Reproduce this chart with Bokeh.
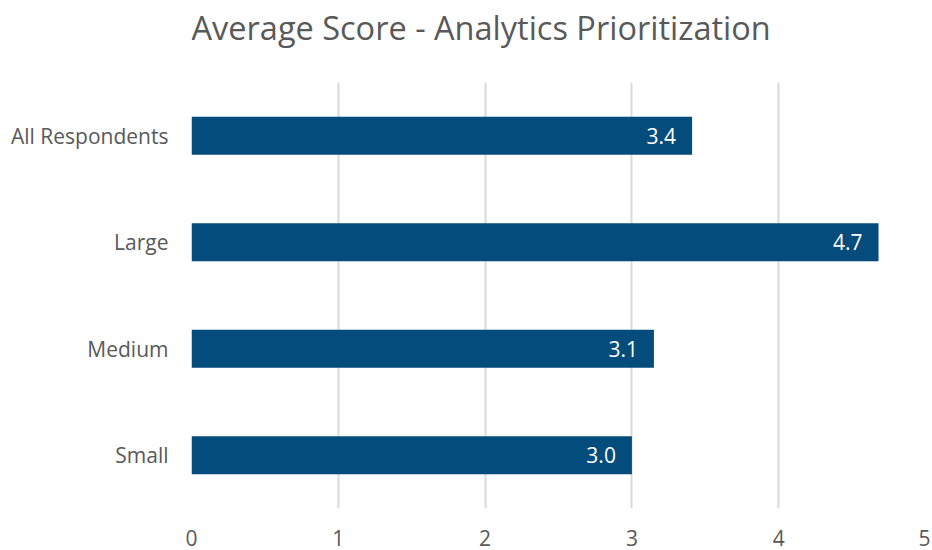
from bokeh.plotting import figure
from bokeh.layouts import column
from bokeh.models import ColumnDataSource, Range1d, FactorRange, FixedTicker, LabelSet
from bokeh.core.properties import value
from bokeh.embed import file_html
from bokeh.resources import INLINE

title_text = "Average Score - Analytics Prioritization"
categories = ["All Respondents", "Large", "Medium", "Small"]
scores = [3.41, 4.68, 3.15, 3.0]
x_ticks = [0, 1, 2, 3, 4, 5]

labels = [f"{v:.1f}" for v in scores]
source = ColumnDataSource(dict(cat=categories, score=scores, label=labels))

TEXT = "#595959"
FONT = "Open Sans"
W = 930
TITLE_H = 82
MAIN_H = 468

# ---- title strip (its frame is aligned with the chart's plot area by the column) ----
t = figure(width=W, height=TITLE_H, x_range=Range1d(0, 5), y_range=Range1d(0, TITLE_H),
           x_axis_type=None, y_axis_type=None,
           output_backend="svg", toolbar_location=None,
           min_border_left=191, min_border_right=W - 925, min_border_top=0, min_border_bottom=0)
t.grid.visible = False
t.outline_line_color = None
t.text(x=[0], y=[TITLE_H - 27], text=[title_text], text_align="left",
       text_baseline="middle", text_font=value(FONT), text_font_size="32.5px",
       text_color=TEXT)

# ---- main chart ----
p = figure(
    width=W, height=MAIN_H,
    y_range=FactorRange(*categories[::-1]),
    x_range=Range1d(0, 5),
    output_backend="svg", toolbar_location=None,
    min_border_left=191, min_border_right=W - 925, min_border_top=0,
    min_border_bottom=42,
)
p.hbar(y="cat", right="score", left=0, height=0.355, source=source,
       fill_color="#044C7B", line_color=None)

lbl = LabelSet(x="score", y="cat", text="label", source=source,
               x_offset=-16, text_align="right", text_baseline="middle",
               text_color="white", text_font=value(FONT), text_font_size="21px")
p.add_layout(lbl)

p.xaxis.ticker = FixedTicker(ticks=x_ticks)
p.xaxis.axis_line_color = None
p.xaxis.major_tick_line_color = None
p.xaxis.minor_tick_line_color = None
p.xaxis.major_label_text_font = FONT
p.xaxis.major_label_text_font_size = "21px"
p.xaxis.major_label_text_color = TEXT
p.xaxis.major_label_standoff = 15

p.yaxis.axis_line_color = None
p.yaxis.major_tick_line_color = None
p.yaxis.major_label_text_font = FONT
p.yaxis.major_label_text_font_size = "21px"
p.yaxis.major_label_text_color = TEXT
p.yaxis.major_label_standoff = 17

p.xgrid.grid_line_color = "#D9D9D9"
p.xgrid.grid_line_width = 2
p.ygrid.grid_line_color = None
p.outline_line_color = None

layout = column(t, p, spacing=0)
open("out.html", "w").write(file_html(layout, INLINE))
